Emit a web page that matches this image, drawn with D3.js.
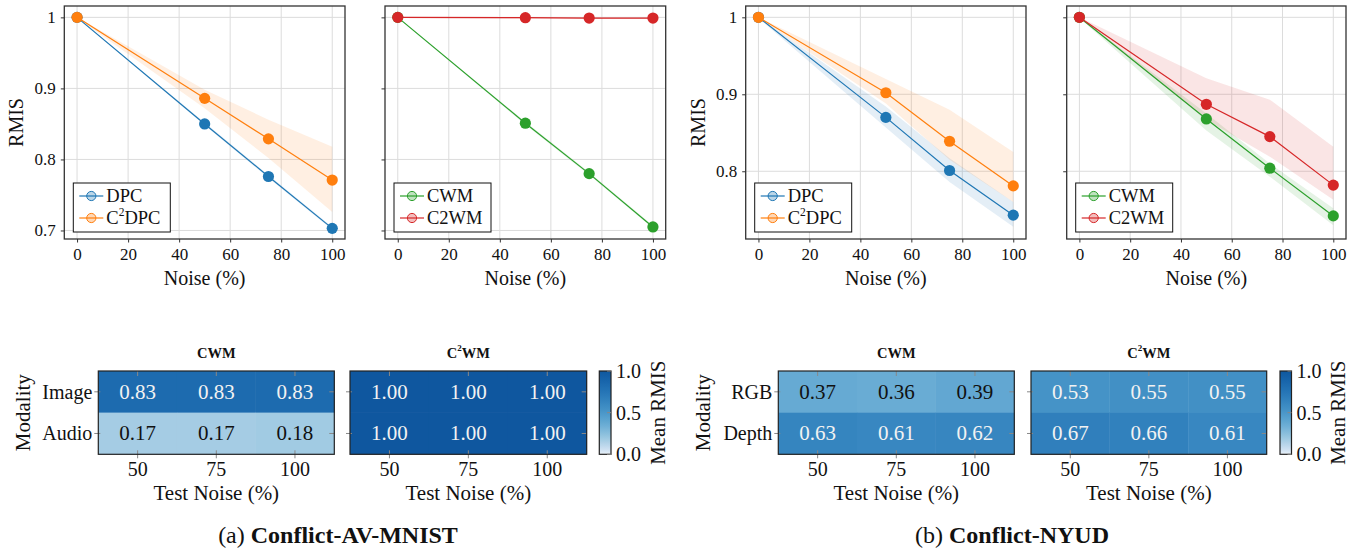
<!DOCTYPE html>
<html><head><meta charset="utf-8">
<script src="https://cdn.jsdelivr.net/npm/d3@7"></script>
<style>
html,body{margin:0;padding:0;background:#fff;}
svg{display:block;}
text{font-family:"Liberation Serif","Times New Roman",serif;fill:#111;}
</style></head>
<body>
<svg id="chart" width="1359" height="548"></svg>
<script>
// ---------------- DATA ----------------
const noise = [0, 50, 75, 100];
const xTicks = [0, 20, 40, 60, 80, 100];

// Conflict-AV-MNIST line panels
const avDPC      = [1.000, 0.850, 0.776, 0.703];
const avDPCLo    = [0.999, 0.848, 0.774, 0.701];
const avDPCHi    = [1.000, 0.852, 0.778, 0.705];
const avC2DPC    = [1.000, 0.886, 0.829, 0.771];
const avC2DPCLo  = [0.999, 0.872, 0.802, 0.726];
const avC2DPCHi  = [1.000, 0.898, 0.856, 0.818];
const avCWM      = [1.000, 0.851, 0.780, 0.705];
const avCWMLo    = [0.999, 0.849, 0.778, 0.703];
const avCWMHi    = [1.000, 0.853, 0.782, 0.707];
const avC2WM     = [1.000, 0.9995, 0.999, 0.999];
const avC2WMLo   = [0.999, 0.998, 0.998, 0.998];
const avC2WMHi   = [1.000, 1.000, 1.000, 1.000];
const avYTicks   = [0.7, 0.8, 0.9, 1.0];

// Conflict-NYUD line panels
const nyDPC      = [1.000, 0.870, 0.801, 0.743];
const nyDPCLo    = [0.999, 0.857, 0.786, 0.728];
const nyDPCHi    = [1.000, 0.884, 0.817, 0.760];
const nyC2DPC    = [1.000, 0.902, 0.839, 0.781];
const nyC2DPCLo  = [0.999, 0.888, 0.815, 0.760];
const nyC2DPCHi  = [1.000, 0.920, 0.880, 0.825];
const nyCWM      = [1.000, 0.868, 0.804, 0.742];
const nyCWMLo    = [0.999, 0.853, 0.793, 0.730];
const nyCWMHi    = [1.000, 0.875, 0.810, 0.752];
const nyC2WM     = [1.000, 0.887, 0.845, 0.782];
const nyC2WMLo   = [0.999, 0.867, 0.819, 0.763];
const nyC2WMHi   = [1.000, 0.921, 0.893, 0.832];
const nyYTicks   = [0.8, 0.9, 1.0];

// Heatmaps
const testNoise    = ["50", "75", "100"];
const avModalities = ["Image", "Audio"];
const avHeatCWM    = [[0.83, 0.83, 0.83], [0.17, 0.17, 0.18]];
const avHeatC2WM   = [[1.00, 1.00, 1.00], [1.00, 1.00, 1.00]];
const nyModalities = ["RGB", "Depth"];
const nyHeatCWM    = [[0.37, 0.36, 0.39], [0.63, 0.61, 0.62]];
const nyHeatC2WM   = [[0.53, 0.55, 0.55], [0.67, 0.66, 0.61]];
const cbTicks      = [0.0, 0.5, 1.0];

// ---------------- STYLE ----------------
const C = {blue:"#1f77b4", orange:"#ff7f0e", green:"#2ca02c", red:"#d62728"};
const svg = d3.select("#chart");

function addLabel(g, parts, x, y, opts) {
  const t = g.append("text").attr("x", x).attr("y", y)
    .attr("font-size", opts.size).attr("text-anchor", opts.anchor || "start")
    .attr("dominant-baseline", "central");
  if (opts.weight) t.attr("font-weight", opts.weight);
  if (opts.rotate) t.attr("transform", `rotate(-90,${x},${y})`);
  parts.forEach(p => {
    const s = t.append("tspan").text(p.t);
    if (p.sup) s.attr("baseline-shift", "super").attr("font-size", opts.size * 0.62);
    if (p.w) s.attr("font-weight", p.w);
  });
  return t;
}

// ---------------- LINE PANELS ----------------
function linePanel(cfg) {
  const top = 6, bottom = 239;
  const x = d3.scaleLinear().domain([-5, 105]).range([cfg.left, cfg.right]);
  const y = d3.scaleLinear().domain(cfg.yDomain).range([bottom, top]);
  const g = svg.append("g");

  g.selectAll(".gx").data(xTicks).join("line")
    .attr("x1", d => x(d)).attr("x2", d => x(d)).attr("y1", top).attr("y2", bottom)
    .attr("stroke", "#dcdcdc").attr("stroke-width", 1);
  g.selectAll(".gy").data(cfg.yTicks).join("line")
    .attr("y1", d => y(d)).attr("y2", d => y(d)).attr("x1", cfg.left).attr("x2", cfg.right)
    .attr("stroke", "#dcdcdc").attr("stroke-width", 1);

  cfg.series.forEach(s => {
    const area = d3.area().x((d, i) => x(noise[i])).y0((d, i) => y(s.lo[i])).y1((d, i) => y(s.hi[i]));
    g.append("path").datum(s.vals).attr("d", area).attr("fill", s.color).attr("fill-opacity", 0.12);
  });
  cfg.series.forEach(s => {
    const line = d3.line().x((d, i) => x(noise[i])).y(d => y(d));
    g.append("path").datum(s.vals).attr("d", line).attr("fill", "none")
      .attr("stroke", s.color).attr("stroke-width", 1.2);
    g.selectAll(null).data(s.vals).join("circle")
      .attr("cx", (d, i) => x(noise[i])).attr("cy", d => y(d)).attr("r", 5.6).attr("fill", s.color);
  });

  g.append("rect").attr("x", cfg.left).attr("y", top).attr("width", cfg.right - cfg.left)
    .attr("height", bottom - top).attr("fill", "none").attr("stroke", "#333").attr("stroke-width", 1.3);

  const ax = g.append("g").attr("transform", `translate(0,${bottom})`)
    .call(d3.axisBottom(x).tickValues(xTicks).tickSize(3.5).tickPadding(5));
  ax.select(".domain").remove();
  ax.selectAll("text").attr("font-size", 17).attr("font-family", '"Liberation Serif",serif').attr("fill", "#111");
  ax.selectAll("line").attr("stroke", "#333");
  const ay = g.append("g").attr("transform", `translate(${cfg.left},0)`)
    .call(d3.axisLeft(y).tickValues(cfg.yTicks).tickSize(3.5).tickPadding(5)
      .tickFormat(d => cfg.showY ? (d === 1 ? "1" : d3.format(".1f")(d)) : ""));
  ay.select(".domain").remove();
  ay.selectAll("text").attr("font-size", 17).attr("font-family", '"Liberation Serif",serif').attr("fill", "#111");
  ay.selectAll("line").attr("stroke", "#333");

  addLabel(g, [{t: "Noise (%)"}], (cfg.left + cfg.right) / 2, 278, {size: 20, anchor: "middle"});
  if (cfg.showY) addLabel(g, [{t: "RMIS"}], cfg.left - 48, (top + bottom) / 2, {size: 20, anchor: "middle", rotate: true});

  const lx = cfg.left + 9, ly = 183, lw = 97, lh = 49;
  const lg = g.append("g");
  lg.append("rect").attr("x", lx).attr("y", ly).attr("width", lw).attr("height", lh)
    .attr("fill", "#fff").attr("stroke", "#111").attr("stroke-width", 1);
  cfg.series.forEach((s, i) => {
    const yy = ly + 13 + i * 22;
    lg.append("line").attr("x1", lx + 6).attr("x2", lx + 30).attr("y1", yy).attr("y2", yy)
      .attr("stroke", s.color).attr("stroke-width", 1.2);
    lg.append("circle").attr("cx", lx + 18).attr("cy", yy).attr("r", 4.6)
      .attr("fill", d3.color(s.color).copy({opacity: 0.3})).attr("stroke", s.color).attr("stroke-width", 1);
    addLabel(lg, s.label, lx + 33, yy, {size: 18.5});
  });
}

const lblDPC = [{t: "DPC"}];
const lblC2DPC = [{t: "C"}, {t: "2", sup: true}, {t: "DPC"}];
const lblCWM = [{t: "CWM"}];
const lblC2WM = [{t: "C2WM"}];

linePanel({left: 64.3, right: 345, yDomain: [0.688, 1.016], yTicks: avYTicks, showY: true,
  series: [
    {vals: avDPC, lo: avDPCLo, hi: avDPCHi, color: C.blue, label: lblDPC},
    {vals: avC2DPC, lo: avC2DPCLo, hi: avC2DPCHi, color: C.orange, label: lblC2DPC}]});
linePanel({left: 385, right: 665.7, yDomain: [0.688, 1.016], yTicks: avYTicks, showY: false,
  series: [
    {vals: avCWM, lo: avCWMLo, hi: avCWMHi, color: C.green, label: lblCWM},
    {vals: avC2WM, lo: avC2WMLo, hi: avC2WMHi, color: C.red, label: lblC2WM}]});
linePanel({left: 745.7, right: 1026, yDomain: [0.712, 1.0147], yTicks: nyYTicks, showY: true,
  series: [
    {vals: nyDPC, lo: nyDPCLo, hi: nyDPCHi, color: C.blue, label: lblDPC},
    {vals: nyC2DPC, lo: nyC2DPCLo, hi: nyC2DPCHi, color: C.orange, label: lblC2DPC}]});
linePanel({left: 1066.7, right: 1346, yDomain: [0.712, 1.0147], yTicks: nyYTicks, showY: false,
  series: [
    {vals: nyCWM, lo: nyCWMLo, hi: nyCWMHi, color: C.green, label: lblCWM},
    {vals: nyC2WM, lo: nyC2WMLo, hi: nyC2WMHi, color: C.red, label: lblC2WM}]});

// ---------------- HEATMAPS ----------------
const hTop = 371, hBot = 454.3;
const colorOf = v => d3.interpolateBlues(0.85 * Math.sqrt(Math.max(0, v)));

function heatmap(cfg) {
  const g = svg.append("g");
  const x = d3.scaleBand().domain(testNoise).range([cfg.left, cfg.right]);
  const y = d3.scaleBand().domain(cfg.rows).range([hTop, hBot]);
  cfg.data.forEach((row, ri) => row.forEach((v, ci) => {
    g.append("rect").attr("x", x(testNoise[ci])).attr("y", y(cfg.rows[ri]))
      .attr("width", x.bandwidth() + 0.3).attr("height", y.bandwidth() + 0.3).attr("fill", colorOf(v));
    g.append("text").attr("x", x(testNoise[ci]) + x.bandwidth() / 2).attr("y", y(cfg.rows[ri]) + y.bandwidth() / 2)
      .attr("text-anchor", "middle").attr("dominant-baseline", "central").attr("font-size", 21)
      .style("fill", v > 0.5 ? "#f2f2f2" : "#111").text(d3.format(".2f")(v));
  }));
  testNoise.forEach(c => {
    const cx = x(c) + x.bandwidth() / 2;
    g.append("line").attr("x1", cx).attr("x2", cx).attr("y1", hTop).attr("y2", hTop + 5).attr("stroke", "#888");
    g.append("line").attr("x1", cx).attr("x2", cx).attr("y1", hBot - 4).attr("y2", hBot + 4).attr("stroke", "#888");
    g.append("text").attr("x", cx).attr("y", 468.5).attr("text-anchor", "middle")
      .attr("dominant-baseline", "central").attr("font-size", 20).text(c);
  });
  cfg.rows.forEach(r => {
    const cy = y(r) + y.bandwidth() / 2;
    g.append("line").attr("x1", cfg.left - 4).attr("x2", cfg.left + 2).attr("y1", cy).attr("y2", cy).attr("stroke", "#888");
    g.append("line").attr("x1", cfg.right - 5).attr("x2", cfg.right).attr("y1", cy).attr("y2", cy).attr("stroke", "#888");
    if (cfg.showRows) g.append("text").attr("x", cfg.left - 6).attr("y", cy).attr("text-anchor", "end")
      .attr("dominant-baseline", "central").attr("font-size", 20).text(r);
  });
  g.append("rect").attr("x", cfg.left).attr("y", hTop).attr("width", cfg.right - cfg.left).attr("height", hBot - hTop)
    .attr("fill", "none").attr("stroke", "#222").attr("stroke-width", 1.2);
  addLabel(g, cfg.title, (cfg.left + cfg.right) / 2, 352.5, {size: 14.5, anchor: "middle", weight: "bold"});
  addLabel(g, [{t: "Test Noise (%)"}], (cfg.left + cfg.right) / 2, 493, {size: 21, anchor: "middle"});
  if (cfg.showRows) addLabel(g, [{t: "Modality"}], cfg.left - 75, (hTop + hBot) / 2, {size: 21, anchor: "middle", rotate: true});
}

function colorbar(left, right, gid) {
  const g = svg.append("g");
  const defs = svg.append("defs");
  const grad = defs.append("linearGradient").attr("id", gid).attr("x1", 0).attr("x2", 0).attr("y1", 1).attr("y2", 0);
  d3.range(0, 1.0001, 0.02).forEach(t => grad.append("stop").attr("offset", t).attr("stop-color", colorOf(t)));
  g.append("rect").attr("x", left).attr("y", hTop).attr("width", right - left).attr("height", hBot - hTop)
    .attr("fill", `url(#${gid})`).attr("stroke", "#222").attr("stroke-width", 1.2);
  const y = d3.scaleLinear().domain([0, 1]).range([hBot, hTop]);
  cbTicks.forEach(t => {
    g.append("line").attr("x1", right - 4).attr("x2", right).attr("y1", y(t)).attr("y2", y(t)).attr("stroke", "#888");
    g.append("text").attr("x", right + 5).attr("y", y(t)).attr("dominant-baseline", "central")
      .attr("font-size", 20).text(d3.format(".1f")(t));
  });
  addLabel(g, [{t: "Mean RMIS"}], right + 47, (hTop + hBot) / 2, {size: 21, anchor: "middle", rotate: true});
}

const c2wmTitle = [{t: "C"}, {t: "2", sup: true}, {t: "WM"}];
heatmap({left: 98.3, right: 334.3, rows: avModalities, data: avHeatCWM, title: [{t: "CWM"}], showRows: true});
heatmap({left: 350, right: 586.7, rows: avModalities, data: avHeatC2WM, title: c2wmTitle, showRows: false});
colorbar(599.3, 611, "cbA");
heatmap({left: 778.3, right: 1014.3, rows: nyModalities, data: nyHeatCWM, title: [{t: "CWM"}], showRows: true});
heatmap({left: 1031, right: 1266.7, rows: nyModalities, data: nyHeatC2WM, title: c2wmTitle, showRows: false});
colorbar(1280, 1291.5, "cbB");

// ---------------- CAPTIONS ----------------
addLabel(svg, [{t: "(a) "}, {t: "Conflict-AV-MNIST", w: "bold"}], 338, 535, {size: 24, anchor: "middle"});
addLabel(svg, [{t: "(b) "}, {t: "Conflict-NYUD", w: "bold"}], 1012, 535, {size: 24, anchor: "middle"});
</script>
</body></html>
